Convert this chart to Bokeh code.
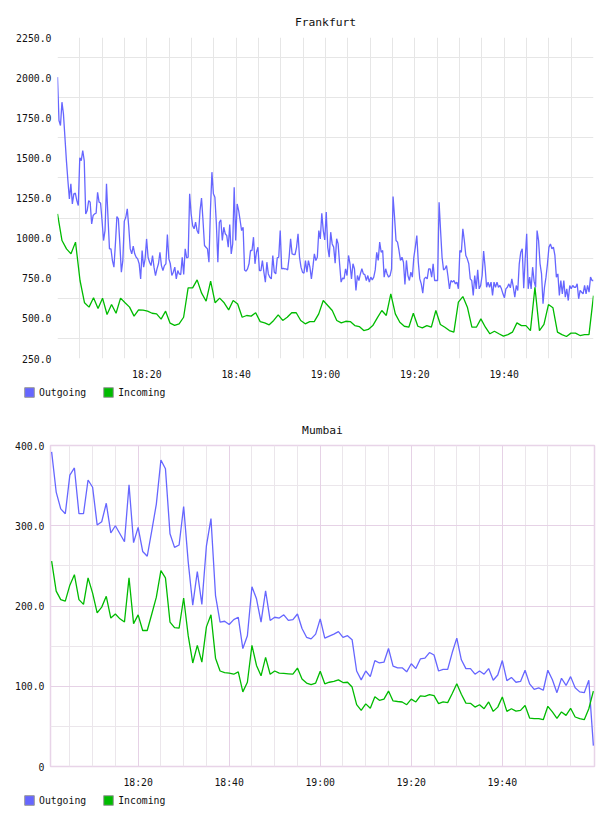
import numpy as np
from bokeh.plotting import figure
from bokeh.models import Range1d, FixedTicker, Grid, Legend, LegendItem, ColumnDataSource
from bokeh.layouts import column
from bokeh.embed import file_html
from bokeh.resources import INLINE

FONT = "DejaVu Sans Mono"
BLUE = "#6666ff"
GREEN = "#00bb00"

# ---------------- data ----------------
series_names = ["Outgoing", "Incoming"]
x_tick_minutes = [20, 40, 60, 80, 100]
x_tick_labels = ["18:20", "18:40", "19:00", "19:20", "19:40"]

fra_y_ticks = [250, 500, 750, 1000, 1250, 1500, 1750, 2000, 2250]
fra_y_labels = ["250.0", "500.0", "750.0", "1000.0", "1250.0", "1500.0", "1750.0", "2000.0", "2250.0"]
mum_y_ticks = [0, 100, 200, 300, 400]
mum_y_labels = ["0", "100.0", "200.0", "300.0", "400.0"]

fra_outgoing = [
    2003,1733,1702,1847,1774,1629,1483,1359,1244,1338,1213,1276,1280,1234,1203,1500,1483,1546,1483,1151,
    1172,1234,1224,1089,1141,1151,1155,1286,1224,1219,1110,985,1047,1338,1130,933,933,860,819,964,
    1134,1120,964,788,860,1106,1130,1182,1068,933,902,950,902,881,871,840,746,923,819,871,
    995,881,850,829,891,819,767,808,840,912,829,798,829,840,1022,871,840,767,788,819,
    746,798,777,773,881,773,933,877,881,1276,1151,1078,1058,1099,1047,1027,1172,1249,1110,954,
    943,933,850,1172,1411,1276,1255,1089,850,1099,1114,985,1068,1027,1016,943,1084,902,964,1317,
    985,1213,1172,1110,1047,1068,802,794,808,840,923,923,1006,840,912,943,798,798,860,788,
    725,850,777,756,746,891,788,777,877,881,1047,808,812,808,808,802,881,995,902,898,
    898,943,1027,881,819,788,781,860,788,860,819,746,819,902,860,881,1047,995,1155,
    1047,989,1162,944,881,1037,964,944,844,996,964,840,726,752,746,809,767,892,840,746,
    840,809,674,767,736,777,809,777,773,736,767,726,757,740,757,802,912,861,975,912,
    923,757,809,777,757,767,809,1259,1131,985,975,923,861,881,850,711,861,767,736,788,
    757,881,944,1016,850,746,715,657,746,757,746,809,809,757,840,736,736,736,1224,1047,
    881,802,809,829,761,684,736,726,736,715,726,684,923,912,1058,985,892,871,840,746,
    736,643,767,684,802,684,705,767,919,819,694,726,694,726,643,726,694,726,694,705,
    684,653,628,684,694,715,690,746,694,632,705,674,840,912,933,688,871,1027,684,757,
    684,819,732,694,1047,985,840,777,591,694,757,840,944,964,933,944,892,757,777,643,
    736,653,736,632,684,611,705,684,705,694,694,715,622,674,663,653,705,653,705,663,
    757,736,736,
]
fra_incoming = [
    1151,985,933,902,975,736,597,570,628,561,626,524,586,532,626,597,570,514,553,551,
    545,532,528,495,545,470,456,466,507,690,690,740,657,607,732,597,626,597,553,611,
    590,507,518,514,535,480,472,460,487,522,487,507,535,535,487,466,480,480,528,611,
    580,549,487,472,482,480,455,449,424,431,455,503,549,518,653,528,476,451,445,532,
    451,441,455,445,549,462,445,424,414,601,636,570,445,445,497,445,404,420,404,389,
    399,414,472,455,455,424,694,424,462,586,566,414,399,387,408,408,393,399,399,642,
]

mum_outgoing = [
    392,342,321,315,363,372,315,315,357,348,301,305,328,291,300,290,280,351,279,298,
    268,262,294,327,382,371,290,273,276,324,255,201,243,202,275,309,213,180,181,177,
    183,186,147,163,224,209,180,219,182,186,185,189,182,183,190,172,161,159,165,184,
    160,162.5,165,168,161,163,158,119,108,119,112,132,129,130,147,125,123,123,118,128,
    122,134,135,142,139,119,121,121,142,160,133,122,122,115,119,115,122,107.5,114,132,
    107,111,105,106,120,103,96,98,95,120,108,92,110,101,112,98,93,92,107.5,26,
]
mum_incoming = [
    256,218.5,208,206,226,239,208,202,235,216,191.5,198.6,212,185,190,184,180,235,178,189,
    169.5,169.5,190,211,244,235,180,173,172.4,210,163,129,151,130,174,189,135,119,117,116.4,
    115,118,93,105,151,126,113,136,115,119,116.4,116,115.5,115,122.6,109,104,102,104,118.75,
    103,105,106,108,104.6,105,99,77,70,78,72.5,87,82.5,84,94,81.7,81,80.4,77,84,
    80.4,88,87.5,89.6,88.3,78.3,80.4,79.6,91,103,90,79,78.7,74,77,72,80.4,68.7,74,86.7,
    68.7,72,69,70,76,60.4,59.6,59.6,58.3,75,68,60,68,63.7,72.5,61.7,59.6,58.3,72,94,
]

fra_out_t = np.linspace(0, 120, len(fra_outgoing))
fra_in_t = np.linspace(0, 120, len(fra_incoming))
mum_t = np.arange(1, len(mum_outgoing) + 1)


def base_fig(title, xr, yr, left, right):
    p = figure(width=608, height=382, output_backend="svg", toolbar_location=None,
               x_range=xr, y_range=yr, frame_align=False,
               min_border_left=left, min_border_right=right,
               min_border_top=37, min_border_bottom=24)
    p.background_fill_color = "white"
    p.border_fill_color = "white"
    p.title.text = title
    p.title.align = "center"
    p.title.text_font = FONT
    p.title.text_font_size = "11.3px"
    p.title.text_font_style = "normal"
    p.title.text_color = "#111111"
    p.title.standoff = 17
    p.xgrid.visible = False
    p.ygrid.visible = False
    for ax in (p.xaxis[0], p.yaxis[0]):
        ax.axis_line_color = None
        ax.major_tick_line_color = None
        ax.minor_tick_line_color = None
        ax.major_tick_in = 0
        ax.major_tick_out = 0
        ax.major_label_text_font = FONT
        ax.major_label_text_font_size = "9.8px"
        ax.major_label_text_color = "#111111"
    p.xaxis.ticker = FixedTicker(ticks=x_tick_minutes)
    p.xaxis.major_label_overrides = dict(zip(x_tick_minutes, x_tick_labels))
    p.xaxis.major_label_standoff = 10
    p.yaxis.major_label_standoff = 6
    return p


def add_grid(p, dim, ticks, color):
    g = Grid(dimension=dim, ticker=FixedTicker(ticks=ticks), grid_line_color=color, grid_line_width=1)
    p.add_layout(g)


def legend_fig():
    lf = figure(width=608, height=26, output_backend="svg", toolbar_location=None,
                x_range=Range1d(0, 1), y_range=Range1d(0, 1), frame_align=False,
                x_axis_location=None, y_axis_location=None,
                min_border=0, min_border_left=0, min_border_right=0,
                min_border_top=0, min_border_bottom=0)
    lf.title = None
    lf.outline_line_color = None
    lf.xgrid.visible = False
    lf.ygrid.visible = False
    # legend swatches only (placed outside the visible range)
    sw = ColumnDataSource(dict(l=[5], r=[6], t=[6], b=[5]))
    q1 = lf.quad(left="l", right="r", top="t", bottom="b", source=sw,
                 fill_color=BLUE, line_color="#999999")
    q2 = lf.quad(left="l", right="r", top="t", bottom="b", source=sw,
                 fill_color=GREEN, line_color="#999999")
    leg = Legend(items=[LegendItem(label=series_names[0], renderers=[q1]),
                        LegendItem(label=series_names[1], renderers=[q2])],
                 location=(23, 10), orientation="horizontal",
                 border_line_color=None, background_fill_alpha=0,
                 glyph_width=12, glyph_height=12, label_height=12, label_width=10,
                 label_standoff=4, spacing=16, padding=0, margin=0,
                 label_text_font=FONT, label_text_font_size="9.8px",
                 label_text_color="#111111", label_text_baseline="middle")
    lf.add_layout(leg)
    return lf


def add_series(p, t_out, v_out, t_in, v_in):
    p.line(t_out, v_out, line_color=BLUE, line_width=1.3)
    p.line(t_in, v_in, line_color=GREEN, line_width=1.3)


# ---------------- Frankfurt ----------------
p1 = base_fig("Frankfurt", Range1d(0, 120), Range1d(250, 2250), 57, 15)
p1.outline_line_color = None
p1.yaxis.ticker = FixedTicker(ticks=fra_y_ticks)
p1.yaxis.major_label_overrides = dict(zip(fra_y_ticks, fra_y_labels))
add_grid(p1, 0, list(range(5, 120, 5)), "#e6e6e6")
add_grid(p1, 1, [v + 125 for v in fra_y_ticks[:-1]], "#e6e6e6")
add_series(p1, fra_out_t, fra_outgoing, fra_in_t, fra_incoming)

# ---------------- Mumbai ----------------
p2 = base_fig("Mumbai", Range1d(0.75, 120.25), Range1d(0, 400), 50, 14)
p2.outline_line_color = "#e8d4e8"
p2.outline_line_width = 1.5
p2.yaxis.ticker = FixedTicker(ticks=mum_y_ticks)
p2.yaxis.major_label_overrides = dict(zip(mum_y_ticks, mum_y_labels))
add_grid(p2, 0, [m for m in range(5, 120, 5) if m % 20], "#ebe6eb")
add_grid(p2, 1, [50, 150, 250, 350], "#ebe6eb")
add_grid(p2, 0, x_tick_minutes, "#e6d2e6")
add_grid(p2, 1, [100, 200, 300], "#e6d2e6")
add_series(p2, mum_t, mum_outgoing, mum_t, mum_incoming)

layout = column(p1, legend_fig(), p2, legend_fig(), spacing=0)
open("out.html", "w").write(file_html(layout, INLINE))
